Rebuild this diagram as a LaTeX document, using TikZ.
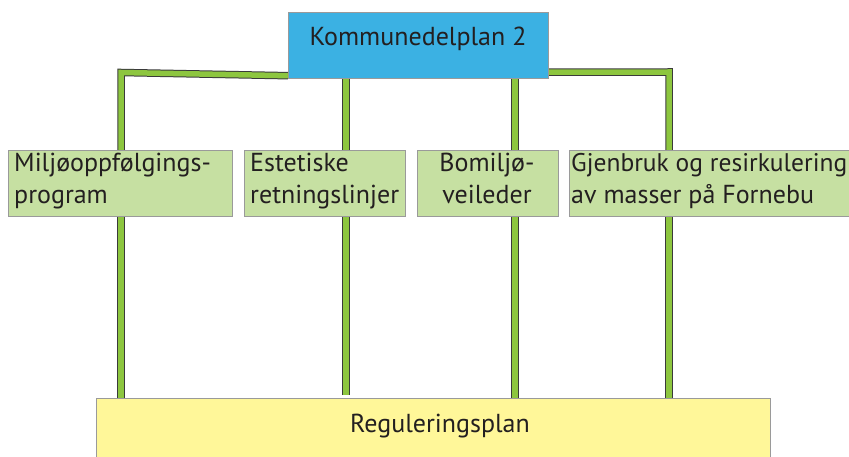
\documentclass[tikz,border=0pt]{standalone}
\usepackage{fontspec}
\setmainfont{PT Sans}
\definecolor{topblue}{HTML}{3BB1E3}
\definecolor{boxgreen}{HTML}{C6E0A2}
\definecolor{regyellow}{HTML}{FFF799}
\definecolor{bargreen}{HTML}{8DC63F}
\definecolor{barline}{HTML}{3A3A3A}
\definecolor{boxline}{HTML}{9A9A9A}
\definecolor{txtcol}{HTML}{231F20}
\pgfdeclarelayer{bg}
\pgfsetlayers{bg,main}
\tikzset{
  box/.style={draw=boxline, line width=1.2pt, inner sep=0pt, anchor=north west},
  mbox/.style={box, fill=boxgreen},
  txt/.style={inner sep=0pt, text=txtcol, font=\fontsize{26}{30}\selectfont},
  conn/.style={draw=barline, line width=1pt, double=bargreen, double distance=5.5pt}
}
\begin{document}
\begin{tikzpicture}[x=1pt,y=-1pt]
\useasboundingbox (0,0) rectangle (849,457);
% boxes
\node[box, fill=topblue, minimum width=260pt, minimum height=66pt] (kp) at (288,12) {};
\node[txt, anchor=base] (kpt) at (418,46) {Kommunedelplan 2};
\node[mbox, minimum width=224pt, minimum height=66pt] (m1) at (8,150) {};
\node[mbox, minimum width=161pt, minimum height=66pt] (m2) at (244,150) {};
\node[mbox, minimum width=141pt, minimum height=66pt] (m3) at (417,150) {};
\node[mbox, minimum width=290pt, minimum height=66pt] (m4) at (569,150) {};
\node[box, fill=regyellow, minimum width=674pt, minimum height=80pt] (reg) at (96,398) {};
% texts
\node[txt, anchor=base west] (t1a) at (14,172) {Miljøoppfølgings-};
\node[txt, anchor=base west] (t1b) at (14,204) {program};
\node[txt, anchor=base west] (t2a) at (250,172) {Estetiske};
\node[txt, anchor=base west] (t2b) at (250,204) {retningslinjer};
\node[txt, anchor=base] (t3a) at (487,172) {Bomiljø-};
\node[txt, anchor=base] (t3b) at (487,204) {veileder};
\node[txt, anchor=base west, font=\fontsize{25.5}{30}\selectfont] (t4a) at (571,172) {Gjenbruk og resirkulering};
\node[txt, anchor=base west] (t4b) at (571,204) {av masser på Fornebu};
\node[txt, anchor=base] (rt) at (440,432) {Reguleringsplan};
% junction points
\coordinate (jl) at (121,72.5);
\coordinate (jr) at (669,72);
\coordinate (x2) at (346,0);
\coordinate (x3) at (515,0);
\begin{pgfonlayer}{bg}
\draw[conn] ([yshift=3.5pt]kp.south west) -- (jl) -- (jl |- m1.north);
\draw[conn] ([yshift=7pt]kp.south east) -- (jr) -- (jr |- m4.north);
\draw[conn] (kp.south -| x2) -- (x2 |- m2.north);
\draw[conn] (kp.south -| x3) -- (x3 |- m3.north);
\draw[conn] (jl |- m1.south) -- (jl |- reg.north);
\draw[conn] (m2.south -| x2) -- ([yshift=3pt]x2 |- reg.north);
\draw[conn] (m3.south -| x3) -- (x3 |- reg.north);
\draw[conn] (jr |- m4.south) -- (jr |- reg.north);
\end{pgfonlayer}
\end{tikzpicture}
\end{document}
